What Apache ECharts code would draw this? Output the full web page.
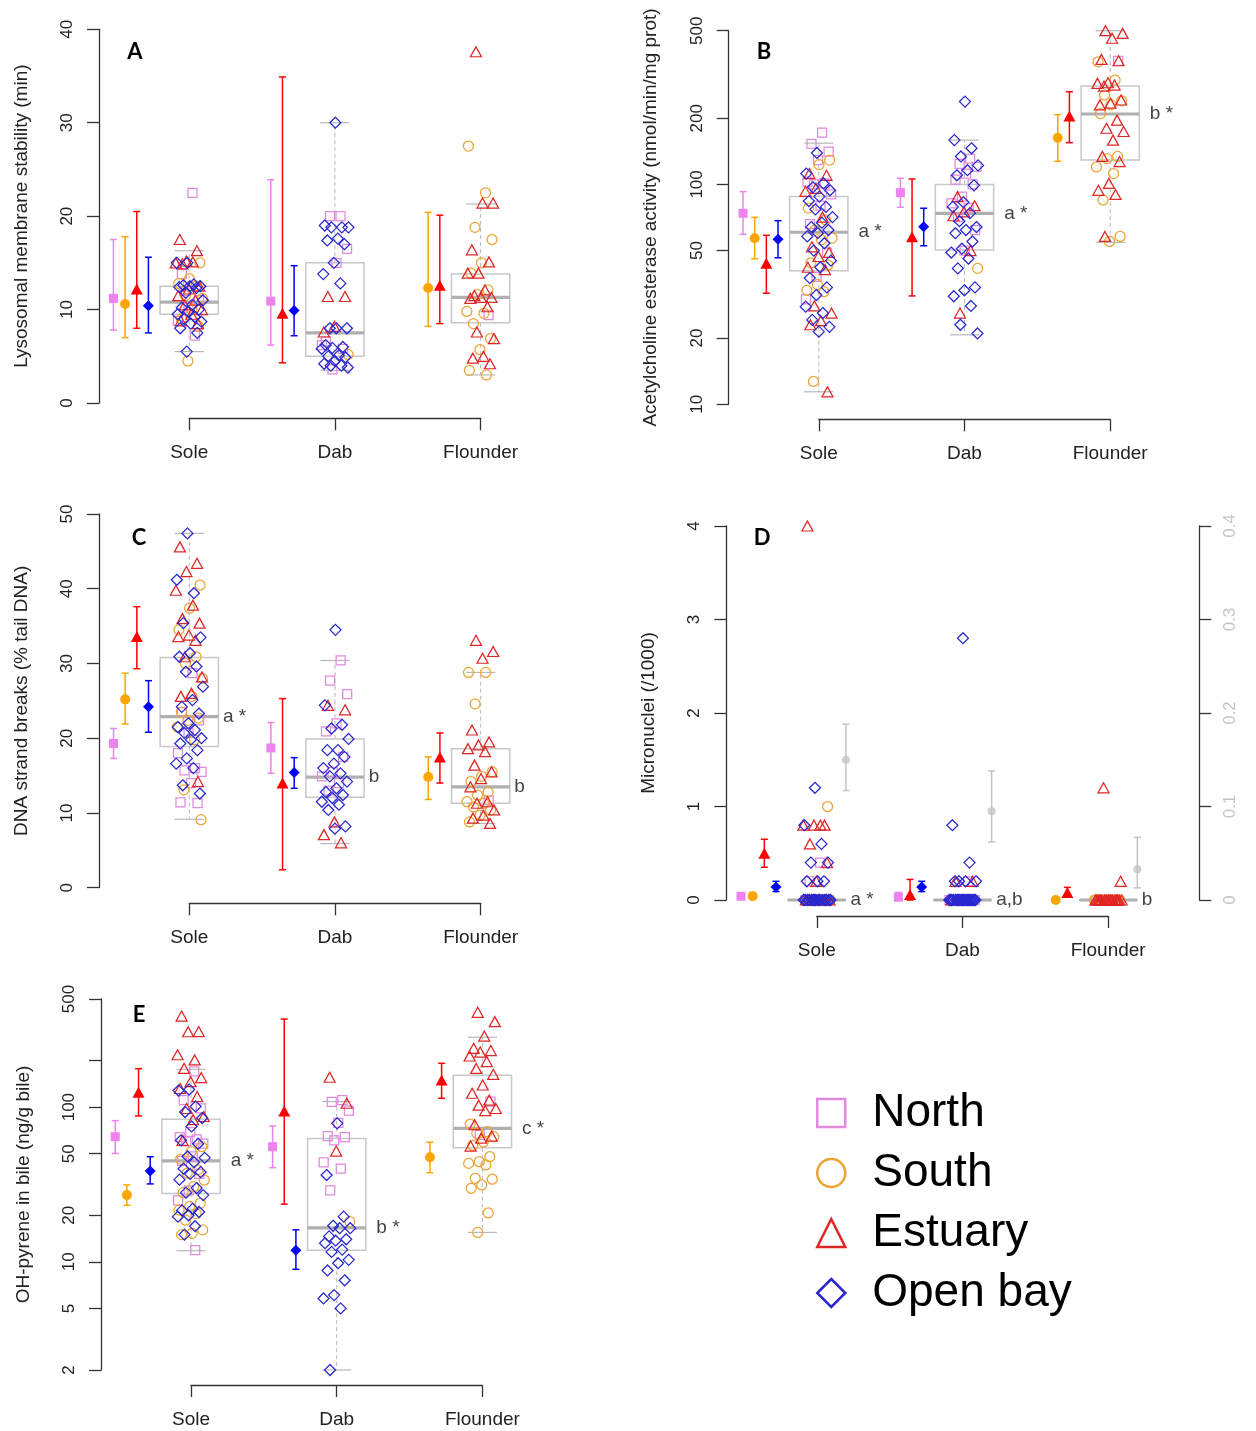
<!DOCTYPE html>
<html>
<head>
<meta charset="utf-8">
<script src="https://cdn.jsdelivr.net/npm/echarts@6/dist/echarts.min.js"></script>
<style>
  html, body { margin: 0; padding: 0; background: #fff; }
  #chart { width: 1256px; height: 1431px; }
</style>
</head>
<body>
<div id="chart"></div>
<script>
const species = ['Sole', 'Dab', 'Flounder'];
const sites = ['North', 'South', 'Estuary', 'Open bay'];

// box stats per species: [lower whisker, q1, median, q3, upper whisker]
// means per site: [species, site, mean, lower, upper]

// A - lysosomal membrane stability
const lmsBox = [[5.5, 9.5, 10.8, 12.5, 16.3], [3.5, 5.0, 7.5, 15.0, 30.0], [3.0, 8.6, 11.3, 13.8, 21.3]];
const lmsMeans = [
  [0, 0, 11.2, 7.8, 17.5], [0, 1, 10.6, 7.0, 17.8], [0, 2, 12.2, 8.0, 20.5], [0, 3, 10.4, 7.5, 15.6],
  [1, 0, 10.9, 6.2, 23.9], [1, 2, 9.6, 4.3, 34.9], [1, 3, 9.9, 7.2, 14.7],
  [2, 1, 12.3, 8.2, 20.4], [2, 2, 12.6, 8.5, 20.1]
];
const lmsNorth = [[22.5, 13.8, 11.0, 10.2, 8.8, 7.2, 12.0], [20.0, 20.0, 16.5, 15.0, 6.6, 5.8, 3.6, 6.2], [9.4]];
const lmsSouth = [[15.0, 13.3, 12.8, 12.5, 11.5, 11.2, 10.0, 9.0, 8.2, 4.5], [5.2],
  [27.5, 22.5, 18.8, 17.5, 15.0, 13.9, 12.1, 11.6, 9.8, 9.6, 8.5, 6.9, 5.7, 3.5, 3.0]];
const lmsEstuary = [[17.5, 16.3, 15.2, 15.0, 15.1, 14.9, 12.5, 12.2, 11.5, 11.0, 10.5, 10.0, 9.5, 8.8, 8.5],
  [11.4, 11.4, 8.2, 7.6],
  [37.6, 21.4, 21.4, 16.4, 15.1, 13.9, 13.9, 12.1, 11.5, 11.3, 11.3, 11.2, 10.3, 7.6, 6.9, 5.0, 4.8, 4.2]];
const lmsOpen = [[15.0, 15.0, 12.7, 12.6, 12.5, 12.5, 12.4, 12.3, 11.8, 11.0, 10.5, 10.2, 10.0, 9.8, 9.5, 9.2, 9.0, 8.7, 8.5, 8.0, 7.5, 5.5],
  [30.0, 19.0, 18.8, 18.8, 18.8, 17.6, 17.4, 17.0, 15.0, 13.8, 12.8, 8.0, 8.0, 8.0, 6.2, 6.0, 5.9, 5.8, 5.1, 5.0, 4.9, 4.5, 4.2, 4.0, 4.0, 3.8],
  []];

// B - acetylcholine esterase
const acheBox = [[11.4, 40.5, 60.6, 88, 154], [20.7, 50.3, 73.9, 100, 159], [54.5, 129, 209, 280, 500]];
const acheMeans = [
  [0, 0, 73.9, 59.3, 92.7], [0, 1, 56.9, 45.9, 70.8], [0, 2, 43.8, 32, 58.7], [0, 3, 56.3, 46.4, 68.4],
  [1, 0, 91.7, 78.7, 106.6], [1, 2, 57.8, 31.1, 105.8], [1, 3, 64.2, 52.6, 77.9],
  [2, 1, 163, 127.4, 207.5], [2, 2, 204.8, 154.8, 264]
];
const acheNorth = [[172, 153, 141, 129, 103, 101, 100, 90, 80, 66, 49, 38, 30], [131, 124, 120, 112, 105, 100, 88, 82, 78, 71, 62, 50], [365]];
const acheSouth = [[129, 123, 78, 69, 62, 57, 56, 44, 43, 35, 33, 32.5, 12.7], [41.5],
  [361, 298, 255, 240, 230, 210, 134, 131, 120, 112, 85, 58, 55]];
const acheEstuary = [[112, 110, 96, 93, 71, 52, 49, 47, 42, 41, 28, 26, 24, 23, 11.4], [88, 80, 75, 72, 50, 26],
  [500, 486, 462, 370, 365, 290, 288, 283, 280, 242, 234, 230, 196, 180, 174, 159, 134, 127, 101, 94, 90, 58]];
const acheOpen = [[139, 112, 101, 97, 94, 88, 84, 79, 77, 71, 67, 64, 62, 60, 58, 54, 50, 45, 42, 37.5, 34, 31.4, 27.8, 26, 24.2, 22.5, 21.4],
  [238, 159, 146, 134, 122, 116, 110, 99, 83, 79, 74, 68, 64, 62, 60, 55, 51, 49, 46, 41.5, 34, 33, 31, 28, 23, 21],
  []];
const acheSig = ['a *', 'a *', 'b *'];

// C - DNA strand breaks
const dnaBox = [[9.15, 18.9, 22.9, 30.8, 47.4], [5.9, 12.1, 14.8, 19.9, 30.4], [8.6, 11.3, 13.5, 18.6, 28.8]];
const dnaMeans = [
  [0, 0, 19.3, 17.3, 21.3], [0, 1, 25.2, 21.9, 28.7], [0, 2, 33.6, 29.3, 37.6], [0, 3, 24.2, 20.8, 27.7],
  [1, 0, 18.7, 15.3, 22.1], [1, 2, 14.0, 2.4, 25.3], [1, 3, 15.4, 13.3, 17.4],
  [2, 1, 14.8, 11.8, 17.5], [2, 2, 17.5, 14.0, 20.7]
];
const dnaNorth = [[28.7, 23.5, 22.4, 20.7, 18.0, 16.0, 15.7, 15.5, 14.0, 11.4, 11.3],
  [30.4, 27.7, 25.9, 22.0, 20.9, 17.5, 15.5, 14.9, 14.0, 13.0], [11.7]];
const dnaSouth = [[40.5, 37.4, 34.5, 30.9, 30.0, 28.0, 25.6, 23.5, 22.7, 22.4, 21.5, 19.8, 13.1, 9.1], [],
  [28.8, 28.8, 24.6, 15.5, 14.9, 14.2, 12.8, 12.4, 11.5, 11.3, 10.8, 10.4, 9.7, 8.8]];
const dnaEstuary = [[45.6, 43.4, 42.3, 39.8, 37.8, 36.0, 35.4, 33.8, 33.6, 33.1, 30.9, 28.2, 26.0, 25.6, 14.2],
  [24.4, 23.8, 8.8, 7.1, 6.0],
  [33.1, 31.6, 30.7, 21.1, 19.5, 19.1, 18.6, 18.2, 16.4, 15.5, 14.6, 13.5, 11.5, 11.3, 10.4, 9.7, 9.3, 8.6]];
const dnaOpen = [[47.4, 41.2, 39.4, 35.4, 33.5, 31.4, 30.9, 29.6, 28.9, 26.9, 25.1, 24.2, 23.3, 22.0, 21.5, 21.1, 20.7, 20.0, 19.8, 19.3, 18.4, 17.3, 16.6, 16.0, 13.7, 12.6],
  [34.5, 24.4, 21.8, 21.3, 19.9, 18.4, 18.4, 17.5, 16.6, 16.0, 15.3, 14.9, 14.2, 13.3, 12.8, 12.4, 12.0, 11.5, 11.1, 10.4, 8.2, 7.9],
  []];
const dnaSig = ['a *', 'b', 'b'];

// D - micronuclei
const mnBox = [[0, 0, 0, 0, 0], [0, 0, 0, 0, 0], [0, 0, 0, 0, 0]];
const mnMeans = [
  [0, 0, 0.04, 0.02, 0.06], [0, 1, 0.04, 0.01, 0.08], [0, 2, 0.50, 0.35, 0.65], [0, 3, 0.14, 0.09, 0.20],
  [1, 0, 0.03, 0.01, 0.08], [1, 2, 0.06, 0.0, 0.22], [1, 3, 0.14, 0.09, 0.20],
  [2, 1, 0.0, 0.0, 0.0], [2, 2, 0.08, 0.03, 0.135]
];
// grey means on the right axis: [mean, lower, upper]
const mnRate = [[0.150, 0.117, 0.188], [0.095, 0.062, 0.138], [0.033, 0.013, 0.067]];
const mnNorth = [[0.4, 0.2, 0, 0, 0, 0, 0, 0], [0.2, 0, 0, 0, 0, 0, 0, 0], [0]];
const mnSouth = [[1.0, 0, 0, 0, 0, 0, 0], [], [0, 0, 0, 0, 0, 0, 0, 0, 0, 0, 0, 0]];
const mnEstuary = [[4.0, 0.8, 0.8, 0.8, 0.8, 0.6, 0.4, 0.2, 0, 0, 0, 0, 0, 0, 0, 0],
  [0.2, 0.2, 0, 0, 0, 0],
  [1.2, 0.2, 0, 0, 0, 0, 0, 0, 0, 0, 0, 0, 0, 0, 0, 0, 0, 0, 0, 0]];
const mnOpen = [[1.2, 0.8, 0.6, 0.4, 0.4, 0.2, 0.2, 0.2, 0, 0, 0, 0, 0, 0, 0, 0, 0, 0, 0, 0, 0, 0, 0],
  [2.8, 0.8, 0.4, 0.2, 0.2, 0.2, 0.2, 0, 0, 0, 0, 0, 0, 0, 0, 0, 0, 0, 0, 0, 0, 0, 0, 0, 0, 0, 0],
  []];
const mnSig = ['a *', 'a,b', 'b'];

// E - OH-pyrene in bile
const ohpBox = [[11.8, 27.7, 44.9, 83.5, 175.7], [2.0, 11.9, 16.6, 62.6, 108.6], [15.5, 54.7, 73, 160.7, 283]];
const ohpMeans = [
  [0, 0, 64.4, 50.2, 81.8], [0, 1, 27.0, 23.2, 31.4], [0, 2, 124.8, 87.7, 177.3], [0, 3, 38.7, 31.9, 47.8],
  [1, 0, 55.5, 40.6, 75.5], [1, 2, 94.5, 23.6, 371], [1, 3, 11.9, 8.95, 16.1],
  [2, 1, 47.4, 37.7, 59.3], [2, 2, 149.9, 114.1, 192]
];
const ohpNorth = [[170, 111, 98, 69, 64, 62, 60, 58, 48, 45, 37, 29, 25, 11.9], [111, 108, 95, 79, 65, 64, 61, 44, 40, 29], [108.6, 66.1]];
const ohpSouth = [[55.5, 51.6, 46, 39.3, 37.4, 33.8, 30.6, 28, 23.9, 22.8, 21.6, 20.5, 18.6, 16.1, 15.3, 15.0], [18.2],
  [77.8, 69.4, 67.7, 64.4, 59.6, 56.7, 47.8, 44.4, 43.3, 42.3, 34.7, 34.2, 31.4, 29.9, 20.7, 15.5]];
const ohpEstuary = [[388, 308, 307, 218, 202, 178, 155, 146, 132, 117, 98, 87, 83, 61], [156, 106, 52],
  [410, 357, 288, 240, 232, 227, 214, 197, 178, 163, 139, 123, 111, 103, 98, 95, 77, 65, 63, 56]];
const ohpOpen = [[130, 128, 101, 93, 85, 75, 61, 58, 48, 47, 44, 40, 38, 37, 34, 30, 28, 27, 22, 21.5, 21, 20, 19.6, 17, 15],
  [78.6, 36.4, 19.6, 17.1, 16.5, 16.5, 14.6, 14.0, 13.7, 13.2, 12.0, 11.6, 10.3, 9.8, 8.8, 7.6, 6.1, 5.8, 5.0, 2.0],
  []];
const ohpSig = ['a *', 'b *', 'c *'];

const acheTicks = [10, 20, 50, 100, 200, 500];
const ohpTicks = [2, 5, 10, 20, 50, 100, 200, 500];
const ohpLabels = [2, 5, 10, 20, 50, 100, 500];

const UNIT = 145.7;
const FONT = 'Liberation Sans, Arial, sans-serif';
const axisLine = { color: '#333', width: 1.3 };

const siteStyle = [
  { symbol: 'rect', size: 9, meanSize: 9, line: '#e08ae0', fill: '#ee82ee' },
  { symbol: 'circle', size: 10, meanSize: 10, line: '#eca434', fill: '#ffa500' },
  { symbol: 'triangle', size: [11, 10], meanSize: [12, 11], line: '#e02626', fill: '#ff0000' },
  { symbol: 'diamond', size: 11, meanSize: 11, line: '#2828d0', fill: '#0000ff' }
];

const panels = [
  { letter: 'A', lx: 135, ly: 52, left: 99, sole: 189.2, top: 29.3, bottom: 403, axisY: 418.3,
    min: 0, max: 40, interval: 10, title: 'Lysosomal membrane stability (min)',
    box: lmsBox, means: lmsMeans, pts: [lmsNorth, lmsSouth, lmsEstuary, lmsOpen], sig: null },
  { letter: 'B', lx: 764, ly: 52, left: 728.7, sole: 818.8, top: 30.7, bottom: 404.3, axisY: 419.3,
    log: true, min: 10, max: 500, ticks: acheTicks, labels: acheTicks,
    title: 'Acetylcholine esterase activity (nmol/min/mg prot)',
    box: acheBox, means: acheMeans, pts: [acheNorth, acheSouth, acheEstuary, acheOpen], sig: acheSig, sigGap: 10 },
  { letter: 'C', lx: 139, ly: 538, left: 98.9, sole: 189.3, top: 514, bottom: 887.7, axisY: 903.3,
    min: 0, max: 50, interval: 10, title: 'DNA strand breaks (% tail DNA)',
    box: dnaBox, means: dnaMeans, pts: [dnaNorth, dnaSouth, dnaEstuary, dnaOpen], sig: dnaSig, sigGap: 4 },
  { letter: 'D', lx: 762, ly: 538, left: 726.3, sole: 816.8, top: 526, bottom: 900, axisY: 916, width: 473,
    min: 0, max: 4, interval: 1, title: 'Micronuclei (/1000)', right: true,
    box: mnBox, means: mnMeans, pts: [mnNorth, mnSouth, mnEstuary, mnOpen], sig: mnSig, sigGap: 4 },
  { letter: 'E', lx: 139, ly: 1015, left: 101, sole: 191, top: 999, bottom: 1370, axisY: 1385,
    log: true, min: 2, max: 500, ticks: ohpTicks, labels: ohpLabels,
    title: 'OH-pyrene in bile (ng/g bile)',
    box: ohpBox, means: ohpMeans, pts: [ohpNorth, ohpSouth, ohpEstuary, ohpOpen], sig: ohpSig, sigGap: 10 }
];

function jitter(k, s) {
  return (((k + 1) * 0.618034 + s * 0.2713) % 1 - 0.5) * 0.19;
}

function renderBox(params, api) {
  const x = api.value(0);
  const lo = api.coord([x, api.value(1)]);
  const q1 = api.coord([x - 0.2, api.value(2)]);
  const md = api.coord([x - 0.2, api.value(3)]);
  const q3 = api.coord([x + 0.2, api.value(4)]);
  const hi = api.coord([x, api.value(5)]);
  const cl = api.coord([x - 0.1, api.value(1)])[0];
  const cr = api.coord([x + 0.1, api.value(1)])[0];
  const dash = { stroke: '#b8b8b8', lineWidth: 1, lineDash: [4, 3] };
  const solid = { stroke: '#b8b8b8', lineWidth: 1.2 };
  return { type: 'group', children: [
    { type: 'line', shape: { x1: lo[0], y1: q1[1], x2: lo[0], y2: lo[1] }, style: dash },
    { type: 'line', shape: { x1: hi[0], y1: q3[1], x2: hi[0], y2: hi[1] }, style: dash },
    { type: 'line', shape: { x1: cl, y1: lo[1], x2: cr, y2: lo[1] }, style: solid },
    { type: 'line', shape: { x1: cl, y1: hi[1], x2: cr, y2: hi[1] }, style: solid },
    { type: 'rect', shape: { x: q1[0], y: q3[1], width: q3[0] - q1[0], height: q1[1] - q3[1] },
      style: { fill: 'none', stroke: '#c8c8c8', lineWidth: 1.5 } },
    { type: 'line', shape: { x1: q1[0], y1: md[1], x2: q3[0], y2: md[1] }, style: { stroke: '#b0b0b0', lineWidth: 3.2 } }
  ] };
}

function renderErr(params, api) {
  const x = api.value(0);
  const a = api.coord([x, api.value(1)]);
  const b = api.coord([x, api.value(2)]);
  const st = { stroke: api.visual('color'), lineWidth: 1.5 };
  return { type: 'group', children: [
    { type: 'line', shape: { x1: a[0], y1: a[1], x2: b[0], y2: b[1] }, style: st },
    { type: 'line', shape: { x1: a[0] - 3.5, y1: a[1], x2: a[0] + 3.5, y2: a[1] }, style: st },
    { type: 'line', shape: { x1: b[0] - 3.5, y1: b[1], x2: b[0] + 3.5, y2: b[1] }, style: st }
  ] };
}

const grid = [], xAxis = [], yAxis = [], series = [], graphic = [];

panels.forEach(p => {
  const w = p.width || 440;
  const xmin = 1 - (p.sole - p.left) / UNIT;
  const gi = grid.length;
  grid.push({ left: p.left, top: p.top, width: w, height: p.bottom - p.top });
  const xi = xAxis.length;
  xAxis.push({ gridIndex: gi, type: 'value', min: xmin, max: xmin + w / UNIT, show: false });
  const yi = yAxis.length;
  const y = {
    gridIndex: gi, type: p.log ? 'log' : 'value', min: p.min, max: p.max,
    axisLine: { show: true, lineStyle: axisLine },
    axisTick: { show: true, length: 12, lineStyle: axisLine },
    axisLabel: { rotate: 90, margin: 23, fontSize: 17, color: '#222', fontFamily: FONT },
    splitLine: { show: false },
    name: p.title, nameLocation: 'middle', nameGap: 68,
    nameTextStyle: { fontSize: 19, color: '#222', fontFamily: FONT }
  };
  if (p.log) {
    y.logBase = 10;
    y.axisTick.customValues = p.ticks;
    y.axisLabel.customValues = p.labels;
  } else {
    y.interval = p.interval;
  }
  yAxis.push(y);
  let yr = null;
  if (p.right) {
    yr = yAxis.length;
    yAxis.push({
      gridIndex: gi, type: 'value', position: 'right', min: 0, max: 0.4, interval: 0.1,
      axisLine: { show: true, lineStyle: axisLine },
      axisTick: { show: true, length: 12, lineStyle: axisLine },
      axisLabel: { rotate: 90, margin: 23, fontSize: 17, color: '#c4c4c4', fontFamily: FONT },
      splitLine: { show: false }
    });
  }

  // species axis under the panel
  const ga = grid.length;
  grid.push({ left: p.sole, top: p.axisY - 1, width: 2 * UNIT, height: 1 });
  xAxis.push({
    gridIndex: ga, type: 'value', min: 1, max: 3, interval: 1,
    axisLine: { show: true, lineStyle: axisLine },
    axisTick: { show: true, length: 12, lineStyle: axisLine },
    axisLabel: { margin: 25, fontSize: 19, color: '#222', fontFamily: FONT, formatter: v => species[v - 1] || '' },
    splitLine: { show: false }
  });
  yAxis.push({ gridIndex: ga, type: 'value', show: false });

  series.push({
    type: 'custom', name: 'box', xAxisIndex: xi, yAxisIndex: yi, renderItem: renderBox, z: 1,
    encode: { x: 0, y: [1, 2, 3, 4, 5] },
    data: p.box.map((b, i) => [i + 1].concat(b)), silent: true
  });

  sites.forEach((s, si) => {
    const st = siteStyle[si];
    const data = [];
    p.pts[si].forEach((vals, sp) => vals.forEach((v, k) => data.push([sp + 1 + jitter(k, si + sp * 4), v])));
    series.push({
      type: 'scatter', name: s, xAxisIndex: xi, yAxisIndex: yi, data: data, clip: false, z: 2,
      symbol: st.symbol, symbolSize: st.size, silent: true,
      itemStyle: { color: 'rgba(255,255,255,0)', borderColor: st.line, borderWidth: 1.25, opacity: 1 }
    });
  });

  const present = [[], [], []];
  p.means.forEach(m => present[m[0]].push(m[1]));
  sites.forEach((s, si) => {
    const st = siteStyle[si];
    const rows = p.means.filter(m => m[1] === si).map(m => {
      const list = present[m[0]];
      const x = m[0] + 1 - 0.28 - 0.08 * (list.length - 1 - list.indexOf(si));
      return [x, m[2], m[3], m[4]];
    });
    if (!rows.length) return;
    series.push({
      type: 'custom', name: s + ' mean', xAxisIndex: xi, yAxisIndex: yi, renderItem: renderErr, z: 3,
      encode: { x: 0, y: [1, 2] }, itemStyle: { color: st.fill }, silent: true,
      data: rows.map(r => [r[0], r[2], r[3]])
    });
    series.push({
      type: 'scatter', name: s + ' mean', xAxisIndex: xi, yAxisIndex: yi, clip: false, z: 4, silent: true,
      symbol: st.symbol, symbolSize: st.meanSize, itemStyle: { color: st.fill, opacity: 1 },
      data: rows.map(r => [r[0], r[1]])
    });
  });

  if (p.right) {
    series.push({
      type: 'custom', name: 'rate', xAxisIndex: xi, yAxisIndex: yr, renderItem: renderErr, z: 3,
      encode: { x: 0, y: [1, 2] }, itemStyle: { color: '#c4c4c4' }, silent: true,
      data: mnRate.map((r, i) => [i + 1.2, r[1], r[2]])
    });
    series.push({
      type: 'scatter', name: 'rate', xAxisIndex: xi, yAxisIndex: yr, clip: false, z: 4, silent: true,
      symbol: 'circle', symbolSize: 8, itemStyle: { color: '#c4c4c4' },
      data: mnRate.map((r, i) => [i + 1.2, r[0]])
    });
  }

  if (p.sig) {
    series.push({
      type: 'scatter', name: 'sig', xAxisIndex: xi, yAxisIndex: yi, clip: false, z: 5, silent: true,
      symbolSize: 1, itemStyle: { color: 'rgba(255,255,255,0)' },
      label: { show: true, position: 'right', distance: p.sigGap, formatter: '{b}', fontSize: 19, color: '#111', fontFamily: FONT },
      data: p.sig.map((t, i) => ({ name: t, value: [i + 1.2, p.box[i][2]] }))
    });
  }

  graphic.push({
    type: 'text', x: p.lx, y: p.ly, silent: true,
    style: { text: p.letter, font: 'bold 22px Lato, sans-serif', fill: '#000', align: 'center', verticalAlign: 'middle' }
  });
});

const chart = echarts.init(document.getElementById('chart'));
chart.setOption({
  animation: false,
  backgroundColor: '#fff',
  textStyle: { fontFamily: FONT },
  grid: grid,
  xAxis: xAxis,
  yAxis: yAxis,
  series: series,
  graphic: graphic,
  legend: {
    orient: 'vertical', left: 811, top: 1085, itemWidth: 28, itemHeight: 28, itemGap: 14,
    selectedMode: false,
    textStyle: { fontSize: 46, lineHeight: 46, color: '#000', fontFamily: FONT, padding: [0, 0, 0, 22] },
    data: sites.map((s, si) => ({
      name: s, icon: siteStyle[si].symbol,
      itemStyle: { color: 'rgba(255,255,255,0)', borderColor: siteStyle[si].line, borderWidth: 2.5 }
    }))
  }
});
</script>
</body>
</html>
